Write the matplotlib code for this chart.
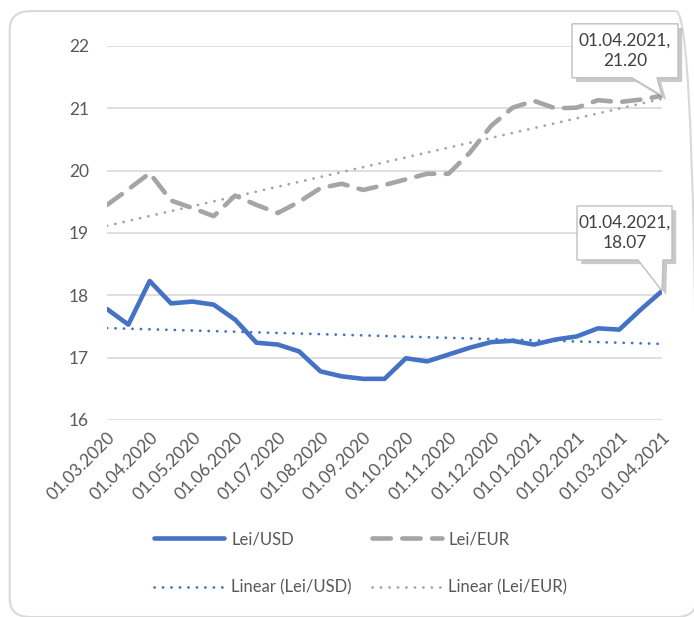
import numpy as np
import matplotlib
matplotlib.use("Agg")
import matplotlib.pyplot as plt
from matplotlib.patches import FancyBboxPatch, Polygon
from matplotlib.transforms import Affine2D
import matplotlib.patheffects as pe

plt.rcParams['font.family'] = ['Lato', 'DejaVu Sans']

# semi-monthly exchange rates, 01.03.2020 .. 01.04.2021
usd = [17.78, 17.53, 18.23, 17.87, 17.90, 17.85, 17.61, 17.24, 17.21, 17.10,
       16.78, 16.70, 16.66, 16.66, 16.99, 16.94, 17.05, 17.16, 17.25, 17.27,
       17.21, 17.29, 17.34, 17.47, 17.45, 17.77, 18.07]
eur = [19.45, 19.70, 19.96, 19.52, 19.40, 19.27, 19.60, 19.45, 19.32, 19.50,
       19.72, 19.79, 19.69, 19.77, 19.86, 19.95, 19.95, 20.29, 20.72, 21.01,
       21.12, 21.00, 21.01, 21.13, 21.10, 21.14, 21.20]
tick_labels = ["01.03.2020", "01.04.2020", "01.05.2020", "01.06.2020",
               "01.07.2020", "01.08.2020", "01.09.2020", "01.10.2020",
               "01.11.2020", "01.12.2020", "01.01.2021", "01.02.2021",
               "01.03.2021", "01.04.2021"]
last_label = ["01.04.2021,\n18.07", "01.04.2021,\n21.20"]

blue = "#4472C4"
grey = "#A5A5A5"
text_col = "#595959"

x = np.arange(len(usd))

fig = plt.figure(figsize=(6.94, 6.17), dpi=100)
ax = fig.add_axes([0.1542, 0.3193, 0.7997, 0.6062])

# chart area border
border = FancyBboxPatch((0.014, 0.0), 0.99, 0.982, transform=fig.transFigure,
                        boxstyle="round,pad=0,rounding_size=0.03",
                        fc="none", ec="#D9D9D9", lw=1.5, clip_on=False)
fig.patches.append(border)

l_usd, = ax.plot(x, usd, color=blue, lw=3.3, solid_capstyle="round",
                 solid_joinstyle="round", label="Lei/USD", zorder=4)
l_eur, = ax.plot(x, eur, color=grey, lw=3.3, dashes=(4, 2.5), dash_capstyle="round",
                 label="Lei/EUR", zorder=4)

# linear trendlines, like Excel's
trends = []
for ser, col, name in [(usd, blue, "Linear (Lei/USD)"), (eur, grey, "Linear (Lei/EUR)")]:
    k, b = np.polyfit(x, ser, 1)
    ln, = ax.plot(x, k * x + b, color=col, lw=2.0, linestyle=(0, (0.05, 3.0)),
                  dash_capstyle="round", label=name, zorder=3)
    trends.append(ln)

ax.set_xlim(0, len(usd) - 1)
ax.set_ylim(16, 22)
ax.set_yticks(np.arange(16, 23, 1))
ax.set_xticks(x[::2])
ax.set_xticklabels(tick_labels, rotation=45, ha="right", va="top",
                   rotation_mode="anchor")
ax.tick_params(axis="both", length=0, labelsize=12.5, labelcolor=text_col)
ax.tick_params(axis="x", pad=7)
ax.tick_params(axis="y", pad=13)
ax.grid(axis="y", color="#D9D9D9", lw=1.2)
ax.set_axisbelow(True)
for s in ax.spines.values():
    s.set_visible(False)


def callout(xd, yd, txt, box, base):
    # box and pointer base are pixel offsets from the data point
    px, py = ax.transData.transform((xd, yd))
    x0, x1, y0, y1 = box
    b0, b1 = base
    verts = [(x0, y1), (x1, y1), (x1, y0), (b1, y0), (0, 0), (b0, y0), (x0, y0)]
    poly = Polygon(verts, closed=True, transform=Affine2D().translate(px, py),
                   fc="white", ec="#BFBFBF", lw=1, zorder=6, clip_on=False)
    poly.set_path_effects([pe.SimplePatchShadow(offset=(3, -3), alpha=0.3), pe.Normal()])
    fig.patches.append(poly)
    fig.text(px + (x0 + x1) / 2, py + (y0 + y1) / 2, txt, transform=None,
             ha="center", va="center", fontsize=12.5, color="#404040",
             linespacing=1.35, zorder=7)


callout(x[-1], usd[-1], last_label[0], (-85, 10, 31, 85), (-24, 1))
callout(x[-1], eur[-1], last_label[1], (-90, 16, 18, 72), (-30, -5))

leg = fig.legend([l_usd, trends[0], l_eur, trends[1]],
                 ["Lei/USD", "Linear (Lei/USD)", "Lei/EUR", "Linear (Lei/EUR)"],
                 loc="center", bbox_to_anchor=(0.52, 0.087), ncol=2,
                 frameon=False, fontsize=12, handlelength=4.2, handletextpad=0.4,
                 columnspacing=1.2, labelspacing=1.95)
for t in leg.get_texts():
    t.set_color(text_col)

fig.savefig("out.png", dpi=100)
